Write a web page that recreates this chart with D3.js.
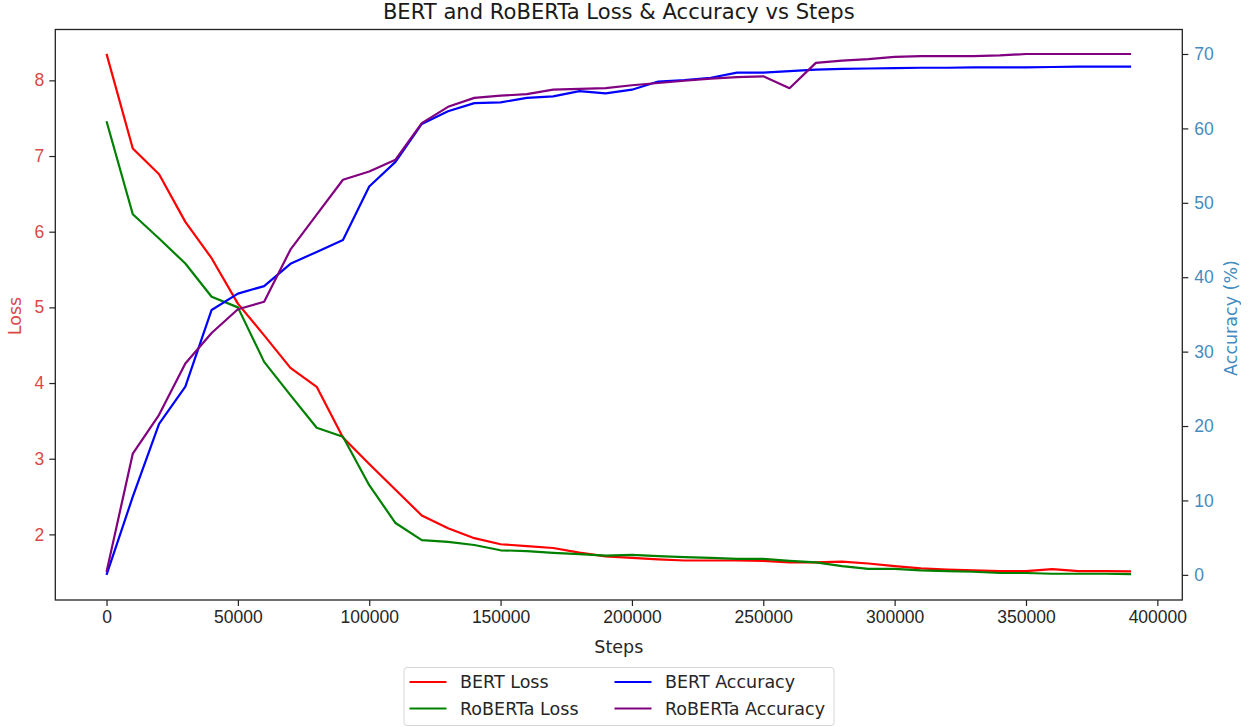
<!DOCTYPE html>
<html>
<head>
<meta charset="utf-8">
<script src="https://cdn.jsdelivr.net/npm/d3@7"></script>
<style>
  body { margin: 0; background: #fff; }
  svg { font-family: "DejaVu Sans", sans-serif; }
  .tick text { font-size: 17.5px; }
</style>
</head>
<body>
<svg width="1251" height="727"></svg>
<script>
// steps, every 10000
let steps = d3.range(0, 400000, 10000)

let bertLoss = [8.35, 7.10, 6.76, 6.13, 5.65, 5.05, 4.63, 4.20, 3.95, 3.28,
                2.93, 2.59, 2.25, 2.08, 1.95, 1.87, 1.845, 1.82, 1.76, 1.71,
                1.69, 1.67, 1.655, 1.655, 1.655, 1.65, 1.63, 1.63, 1.64, 1.615,
                1.58, 1.55, 1.535, 1.525, 1.515, 1.515, 1.54, 1.515, 1.515, 1.51]

let robertaLoss = [7.46, 6.23, 5.91, 5.58, 5.14, 5.00, 4.28, 3.84, 3.41, 3.29,
                   2.65, 2.15, 1.925, 1.90, 1.86, 1.79, 1.78, 1.757, 1.74, 1.72,
                   1.73, 1.713, 1.70, 1.69, 1.677, 1.677, 1.65, 1.63, 1.58, 1.545,
                   1.545, 1.525, 1.515, 1.506, 1.49, 1.49, 1.48, 1.48, 1.48, 1.475]

let bertAcc = [0.0, 10.5, 20.3, 25.3, 35.6, 37.8, 38.8, 41.8, 43.4, 45.0,
               52.2, 55.5, 60.6, 62.3, 63.4, 63.5, 64.1, 64.3, 65.0, 64.7,
               65.2, 66.3, 66.5, 66.8, 67.5, 67.5, 67.7, 67.9, 68.0, 68.05,
               68.1, 68.15, 68.15, 68.2, 68.2, 68.2, 68.25, 68.3, 68.3, 68.3]

let robertaAcc = [0.4, 16.3, 21.5, 28.4, 32.5, 35.7, 36.7, 43.7, 48.4, 53.1,
                  54.2, 55.8, 60.7, 62.9, 64.1, 64.4, 64.6, 65.2, 65.3, 65.4,
                  65.8, 66.1, 66.4, 66.7, 66.9, 67.0, 65.4, 68.8, 69.1, 69.3,
                  69.6, 69.7, 69.7, 69.7, 69.8, 70.0, 70.0, 70.0, 70.0, 70.0]

let lossTicks = [2, 3, 4, 5, 6, 7, 8]
let accTicks = [0, 10, 20, 30, 40, 50, 60, 70]
let stepTicks = d3.range(0, 450000, 50000)

let series = [
  {name: 'BERT Loss', vals: bertLoss, axis: 'loss', color: 'red'},
  {name: 'RoBERTa Loss', vals: robertaLoss, axis: 'loss', color: 'green'},
  {name: 'BERT Accuracy', vals: bertAcc, axis: 'acc', color: 'blue'},
  {name: 'RoBERTa Accuracy', vals: robertaAcc, axis: 'acc', color: 'purple'}
]

let lossColor = '#d62728'
let accColor = '#1f77b4'

let box = {left: 55.3, right: 1182.3, top: 29.5, bottom: 600}

let svg = d3.select('svg')

let x = d3.scaleLinear().domain([-19500, 409500]).range([box.left, box.right])
let yLoss = d3.scaleLinear().domain([1.133, 8.672]).range([box.bottom, box.top])
let yAcc = d3.scaleLinear().domain([-3.38, 73.29]).range([box.bottom, box.top])

let scales = {loss: yLoss, acc: yAcc}

/* Lineas */
let plot = svg.append('g')

series.forEach(s => {
  let line = d3.line()
    .x((d, i) => x(steps[i]))
    .y(d => scales[s.axis](d))
  plot.append('path')
    .datum(s.vals)
    .attr('d', line)
    .attr('fill', 'none')
    .attr('stroke', s.color)
    .attr('stroke-width', 2.2)
    .attr('stroke-linejoin', 'round')
})

/* Ejes */
let xAxis = svg.append('g')
  .attr('transform', `translate(0,${box.bottom})`)
  .call(d3.axisBottom(x).tickValues(stepTicks).tickFormat(d3.format('d')).tickSize(6).tickPadding(5))

let leftAxis = svg.append('g')
  .attr('transform', `translate(${box.left},0)`)
  .call(d3.axisLeft(yLoss).tickValues(lossTicks).tickFormat(d3.format('d')).tickSize(6).tickPadding(5))

let rightAxis = svg.append('g')
  .attr('transform', `translate(${box.right},0)`)
  .call(d3.axisRight(yAcc).tickValues(accTicks).tickFormat(d3.format('d')).tickSize(6).tickPadding(6))

;[xAxis, leftAxis, rightAxis].forEach(a => {
  a.select('.domain').remove()
  a.selectAll('.tick line').attr('stroke', '#222').attr('stroke-width', 1.2)
})
xAxis.selectAll('.tick text').attr('fill', '#262626')
leftAxis.selectAll('.tick text').attr('fill', lossColor).attr('opacity', 0.85)
rightAxis.selectAll('.tick text').attr('fill', accColor).attr('opacity', 0.85)

// marco
svg.append('rect')
  .attr('x', box.left).attr('y', box.top)
  .attr('width', box.right - box.left).attr('height', box.bottom - box.top)
  .attr('fill', 'none').attr('stroke', '#222').attr('stroke-width', 1.3)

/* Textos */
svg.append('text')
  .attr('x', (box.left + box.right) / 2).attr('y', 19)
  .attr('text-anchor', 'middle').attr('font-size', 21.1).attr('fill', '#1a1a1a')
  .text('BERT and RoBERTa Loss & Accuracy vs Steps')

svg.append('text')
  .attr('x', (box.left + box.right) / 2).attr('y', 652.5)
  .attr('text-anchor', 'middle').attr('font-size', 17.5).attr('fill', '#262626')
  .text('Steps')

svg.append('text')
  .attr('transform', 'translate(21,316) rotate(-90)')
  .attr('text-anchor', 'middle').attr('font-size', 17.5)
  .attr('fill', lossColor).attr('opacity', 0.85)
  .text('Loss')

svg.append('text')
  .attr('transform', 'translate(1237,318) rotate(-90)')
  .attr('text-anchor', 'middle').attr('font-size', 17.5)
  .attr('fill', accColor).attr('opacity', 0.85)
  .text('Accuracy (%)')

/* Leyenda */
let legend = svg.append('g')
legend.append('rect')
  .attr('x', 404).attr('y', 667.5).attr('width', 430).attr('height', 58)
  .attr('rx', 3).attr('fill', 'white').attr('stroke', '#d6d6d6').attr('stroke-width', 1)

let colX = [409.5, 614.5]
let rowY = [682, 708.5]
let items = legend.selectAll('g.item')
  .data(series)
  .enter().append('g')
  .attr('class', 'item')
  .attr('transform', (d, i) => `translate(${colX[i < 2 ? 0 : 1]},${rowY[i % 2]})`)

items.append('line')
  .attr('x1', 0).attr('x2', 37).attr('y1', 0).attr('y2', 0)
  .attr('stroke', d => d.color).attr('stroke-width', 2.2)

items.append('text')
  .attr('x', 50.5).attr('y', 6.2)
  .attr('font-size', 17.5).attr('fill', '#262626')
  .text(d => d.name)
</script>
</body>
</html>
